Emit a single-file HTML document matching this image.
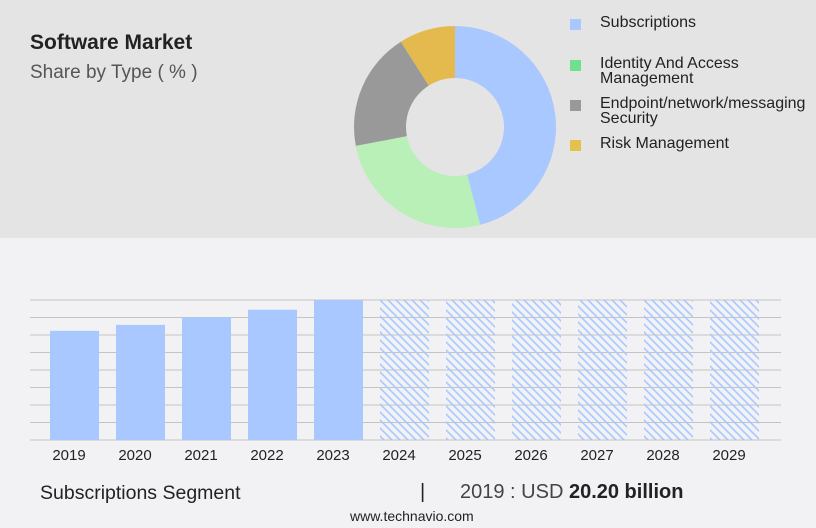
<!DOCTYPE html>
<html><head><meta charset="utf-8"><style>
body{margin:0;width:816px;height:528px;background:#f2f2f4;font-family:"Liberation Sans",sans-serif;position:relative;overflow:hidden}
#top{position:absolute;left:0;top:0;width:816px;height:238px;background:#e4e4e4}
.t{position:absolute;white-space:nowrap;color:#222}
.sq{position:absolute;width:11px;height:11px}
</style></head><body>
<div id="top"></div>
<div class="t" style="left:30px;top:31px;font-size:21px;font-weight:bold">Software Market</div>
<div class="t" style="left:30px;top:62px;font-size:19px;color:#555">Share by Type ( % )</div>
<svg id="donut" width="816" height="238" style="position:absolute;left:0;top:0"></svg>
<div>
<div class="sq" style="left:570px;top:19px;background:#a8c8ff"></div>
<div class="t" style="left:600px;top:15px;font-size:16px;line-height:16px">Subscriptions</div>
<div class="sq" style="left:570px;top:60px;background:#6ee08e"></div>
<div class="t" style="left:600px;top:56px;font-size:16px;line-height:15px">Identity And Access<br>Management</div>
<div class="sq" style="left:570px;top:100px;background:#999"></div>
<div class="t" style="left:600px;top:96px;font-size:16px;line-height:15px">Endpoint/network/messaging<br>Security</div>
<div class="sq" style="left:570px;top:140px;background:#e4c04c"></div>
<div class="t" style="left:600px;top:136px;font-size:16px;line-height:16px">Risk Management</div>
</div>
<svg id="bars" width="816" height="470" style="position:absolute;left:0;top:0">
<defs><pattern id="hatch" patternUnits="userSpaceOnUse" width="8" height="8"><path d="M-2,-2 L10,10 M-2,6 L2,10 M6,-2 L10,2" stroke="#a8c8ff" stroke-width="1.6"/></pattern></defs>
</svg>
<div class="t" style="left:40px;top:482px;font-size:19.5px">Subscriptions Segment</div>
<div class="t" style="left:420px;top:481px;font-size:20px">|</div>
<div class="t" style="left:460px;top:481px;font-size:20px;color:#444">2019 : USD <b style="color:#222">20.20 billion</b></div>
<div class="t" style="left:350px;top:508px;font-size:14px">www.technavio.com</div>
<script>
const slices=["Subscriptions","Identity And Access Management","Endpoint/network/messaging Security","Risk Management"];
const shares=[46,26,19,9];
const colors=["#a8c8ff","#b8f0b8","#999999","#e4b94e"];
const years=["2019","2020","2021","2022","2023","2024","2025","2026","2027","2028","2029"];
const values=[20.2,21.3,22.7,24.1,25.9,25.9,25.9,25.9,25.9,25.9,25.9];
const forecast=[false,false,false,false,false,true,true,true,true,true,true];
const NS="http://www.w3.org/2000/svg";
const d=document.getElementById('donut');
const cx=455,cy=127,R=101,r=49;
let tot=shares.reduce((a,b)=>a+b,0),acc=0;
function pt(a,rad){return [cx+rad*Math.sin(a),cy-rad*Math.cos(a)];}
shares.forEach((s,i)=>{
 const a0=acc/tot*2*Math.PI;acc+=s;const a1=acc/tot*2*Math.PI;
 const lg=(a1-a0)>Math.PI?1:0;
 const [x0,y0]=pt(a0,R),[x1,y1]=pt(a1,R),[x2,y2]=pt(a1,r),[x3,y3]=pt(a0,r);
 const p=document.createElementNS(NS,'path');
 p.setAttribute('d',`M${x0},${y0}A${R},${R} 0 ${lg} 1 ${x1},${y1}L${x2},${y2}A${r},${r} 0 ${lg} 0 ${x3},${y3}Z`);
 p.setAttribute('fill',colors[i]);
 
 
 d.appendChild(p);
});
const cp=document.createElementNS(NS,'rect');cp.setAttribute('x',0);cp.setAttribute('y',228);cp.setAttribute('width',816);cp.setAttribute('height',10);cp.setAttribute('fill','#e4e4e4');d.appendChild(cp);
const b=document.getElementById('bars');
const base=440,top0=300,vmax=25.9;
function y(v){return base-(v/vmax)*(base-top0);}
for(let i=0;i<9;i++){
 const l=document.createElementNS(NS,'line');const yy=top0+i*17.5;
 l.setAttribute('x1',30);l.setAttribute('x2',781);l.setAttribute('y1',yy);l.setAttribute('y2',yy);
 l.setAttribute('stroke','#c4c4c4');l.setAttribute('stroke-width','1');
 
 
 b.appendChild(l);
}
years.forEach((yr,i)=>{
 const x=50+i*66;
 const rc=document.createElementNS(NS,'rect');
 rc.setAttribute('x',x);rc.setAttribute('width',49);rc.setAttribute('y',y(values[i]));rc.setAttribute('height',base-y(values[i]));
 rc.setAttribute('fill',forecast[i]?'url(#hatch)':'#a8c8ff');
 
 
 b.appendChild(rc);
 const t=document.createElementNS(NS,'text');
 t.setAttribute('x',x+19);t.setAttribute('y',460);t.setAttribute('text-anchor','middle');
 t.setAttribute('font-size','15');t.setAttribute('fill','#222');t.setAttribute('font-family','Liberation Sans, sans-serif');
 t.textContent=yr;
 
 
 b.appendChild(t);
});
</script>
</body></html>
